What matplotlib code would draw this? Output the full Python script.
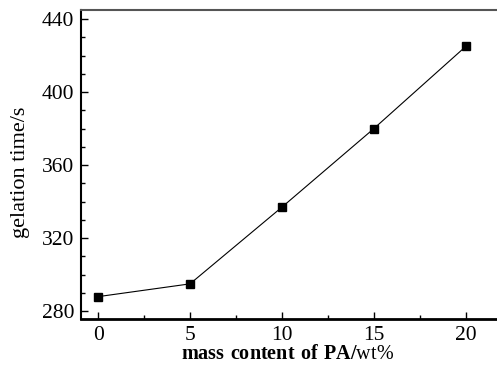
import matplotlib
matplotlib.use("Agg")
import matplotlib.pyplot as plt
from matplotlib.ticker import MultipleLocator

plt.rcParams['font.family'] = 'Liberation Serif'
plt.rcParams['mathtext.fontset'] = 'custom'
plt.rcParams['mathtext.rm'] = 'Liberation Serif'
plt.rcParams['mathtext.bf'] = 'Liberation Serif:bold'

mass_content = [0, 5, 10, 15, 20]
gelation_time = [288, 295, 337, 380, 425]

fig = plt.figure(figsize=(4.97, 3.67), dpi=100)
ax = fig.add_axes([0.163, 0.132, 0.837, 0.841])
ax.plot(mass_content, gelation_time, color='black', lw=0.8, marker='s', ms=5.5)

ax.set_xlim(-0.93, 21.7)
ax.set_ylim(276, 445)
ax.xaxis.set_major_locator(MultipleLocator(5))
ax.xaxis.set_minor_locator(MultipleLocator(2.5))
ax.yaxis.set_major_locator(MultipleLocator(40))
ax.yaxis.set_minor_locator(MultipleLocator(10))
ax.tick_params(which='both', direction='in', labelsize=15.5, top=False, right=False)
ax.tick_params(which='major', length=5, width=1)
ax.tick_params(which='minor', length=3, width=1)
ax.tick_params(axis='y', pad=5)
ax.tick_params(axis='x', pad=5)

ax.spines['left'].set_linewidth(1.5)
ax.spines['bottom'].set_linewidth(2)
ax.spines['top'].set_linewidth(1.5)
ax.spines['top'].set_color('#555555')
ax.spines['right'].set_visible(False)

ax.set_ylabel('gelation time/s', fontsize=16)
ax.yaxis.set_label_coords(-0.123, 0.474)
ax.set_xlabel(r'$\mathbf{mass\ content\ of\ PA/}\mathrm{wt\%}$', fontsize=14.5)
ax.xaxis.set_label_coords(0.496, -0.085)

fig.savefig('out.png', dpi=100)
